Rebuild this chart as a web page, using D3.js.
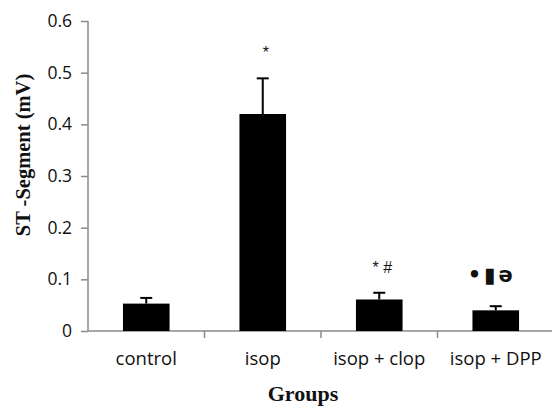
<!DOCTYPE html>
<html>
<head>
<meta charset="utf-8">
<script src="https://cdn.jsdelivr.net/npm/d3@7"></script>
<style>
  body { margin: 0; background: #fff; }
  svg { display: block; }
</style>
</head>
<body>
<svg id="chart"></svg>
<script>
// ST-segment bar chart with one-sided error bars

const WIDTH = 552;
const HEIGHT = 407;

const groups = ["control", "isop", "isop + clop", "isop + DPP"];
const means = [0.053, 0.42, 0.061, 0.04];
const errors = [0.011, 0.069, 0.013, 0.008];
const marks = ["", "*", "* #", "\u2022\u25AE\u0259"];
const yTicks = [0, 0.1, 0.2, 0.3, 0.4, 0.5, 0.6];

const margin = { top: 21, right: 0, bottom: 76, left: 88 };

const svg = d3.select("#chart")
    .attr("width", WIDTH)
    .attr("height", HEIGHT);

const x = d3.scaleBand()
    .domain(groups)
    .range([margin.left, WIDTH - margin.right + 2])
    .paddingInner(0.6)
    .paddingOuter(0.3);

const y = d3.scaleLinear()
    .domain([0, 0.6])
    .range([HEIGHT - margin.bottom, margin.top]);

const axisColor = "#8a8a8a";

// Y axis
const yAxis = svg.append("g")
    .attr("transform", `translate(${margin.left},0)`)
    .call(d3.axisLeft(y).tickValues(yTicks).tickSize(7).tickPadding(9)
        .tickFormat(d => d === 0 ? "0" : d3.format(".1f")(d)));
yAxis.select(".domain").attr("stroke", axisColor).attr("stroke-width", 1.5)
    .attr("d", `M0,${y(0.6)}H0V${y(0)}`);
yAxis.selectAll(".tick line").attr("stroke", axisColor).attr("stroke-width", 1.5);
yAxis.selectAll(".tick text")
    .attr("font-family", "'Open Sans', sans-serif")
    .attr("font-size", "17.5px")
    .attr("fill", "#111");

// X axis with ticks between categories
const xAxisY = y(0);
const step = x.step();
const xStart = margin.left;
svg.append("line")
    .attr("x1", xStart).attr("x2", WIDTH)
    .attr("y1", xAxisY).attr("y2", xAxisY)
    .attr("stroke", axisColor).attr("stroke-width", 1.5);
groups.forEach((g, i) => {
    const bx = x(g) - x.bandwidth() * 0.75 + step;
    svg.append("line")
        .attr("x1", bx).attr("x2", bx)
        .attr("y1", xAxisY).attr("y2", xAxisY + 7)
        .attr("stroke", axisColor).attr("stroke-width", 1.5);
    svg.append("text")
        .attr("x", x(g) + x.bandwidth() / 2)
        .attr("y", xAxisY + 34)
        .attr("text-anchor", "middle")
        .attr("font-family", "'Open Sans', sans-serif")
        .attr("font-size", "18.5px")
        .attr("fill", "#111")
        .text(g);
});

// Bars
svg.selectAll("rect.bar")
    .data(groups)
    .join("rect")
    .attr("class", "bar")
    .attr("x", d => x(d))
    .attr("width", x.bandwidth())
    .attr("y", (d, i) => y(means[i]))
    .attr("height", (d, i) => y(0) - y(means[i]))
    .attr("fill", "#000");

// Error bars (upper only)
groups.forEach((g, i) => {
    const cx = x(g) + x.bandwidth() / 2;
    const top = y(means[i] + errors[i]);
    svg.append("line")
        .attr("x1", cx).attr("x2", cx)
        .attr("y1", y(means[i])).attr("y2", top)
        .attr("stroke", "#000").attr("stroke-width", 2);
    svg.append("line")
        .attr("x1", cx - 6).attr("x2", cx + 6)
        .attr("y1", top).attr("y2", top)
        .attr("stroke", "#000").attr("stroke-width", 2);
});

// Significance marks
groups.forEach((g, i) => {
    if (!marks[i]) return;
    const cx = x(g) + x.bandwidth() / 2;
    const top = y(means[i] + errors[i]);
    const heavy = i === 3;
    svg.append("text")
        .attr("x", cx + (heavy ? -4 : 3))
        .attr("y", top - (heavy ? 24 : 20))
        .attr("text-anchor", "middle")
        .attr("font-family", heavy ? "'DejaVu Sans', sans-serif" : "'Liberation Sans', sans-serif")
        .attr("font-weight", heavy ? "bold" : "normal")
        .attr("font-size", heavy ? "21px" : "16px")
        .attr("letter-spacing", heavy ? "3px" : null)
        .attr("fill", "#111")
        .text(marks[i]);
});

// Axis titles
svg.append("text")
    .attr("transform", `translate(30, 155) rotate(-90)`)
    .attr("text-anchor", "middle")
    .attr("font-family", "'Liberation Serif', 'Times New Roman', serif")
    .attr("font-weight", "bold")
    .attr("font-size", "20.5px")
    .attr("fill", "#111")
    .text("ST -Segment (mV)");

svg.append("text")
    .attr("x", 303)
    .attr("y", 401)
    .attr("text-anchor", "middle")
    .attr("font-family", "'Liberation Serif', 'Times New Roman', serif")
    .attr("font-weight", "bold")
    .attr("font-size", "22px")
    .attr("fill", "#111")
    .text("Groups");
</script>
</body>
</html>
